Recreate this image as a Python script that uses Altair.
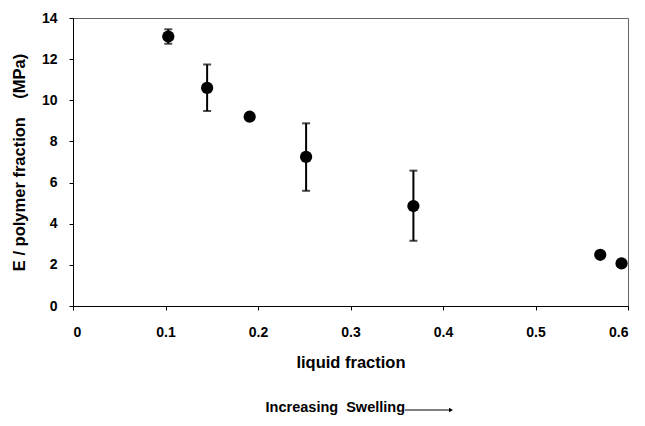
import altair as alt
import pandas as pd

liquid_fraction = [0.103, 0.145, 0.191, 0.252, 0.368, 0.570, 0.593]
modulus = [13.1, 10.6, 9.2, 7.25, 4.86, 2.49, 2.07]
err_low = [12.75, 9.48, 9.2, 5.6, 3.17, 2.49, 2.07]
err_high = [13.45, 11.74, 9.2, 8.88, 6.58, 2.49, 2.07]
has_err = [True, True, False, True, True, False, False]

x_ticks = [0, 0.1, 0.2, 0.3, 0.4, 0.5, 0.6]
y_ticks = [0, 2, 4, 6, 8, 10, 12, 14]

df = pd.DataFrame({"x": liquid_fraction, "y": modulus, "lo": err_low, "hi": err_high, "e": has_err})
dfe = df[df["e"]]

FONT = "Liberation Sans"
NB = "\u00a0"

xs = alt.Scale(domain=[0, 0.6], nice=False, zero=False)
ys = alt.Scale(domain=[0, 14], nice=False)

xax = alt.Axis(values=x_ticks, format=".1f", labelExpr="datum.value == 0 ? '0' : datum.label",
               title="liquid fraction", grid=False, tickSize=4, labelPadding=15,
               titlePadding=15)
yax = alt.Axis(values=y_ticks, title="E / polymer fraction" + NB * 4 + "(MPa)", grid=False,
               tickSize=4, labelPadding=12, titlePadding=14)

base = alt.Chart(df)

points = base.mark_point(filled=True, shape="circle", size=150, color="black", opacity=1).encode(
    x=alt.X("x:Q", scale=xs, axis=xax),
    y=alt.Y("y:Q", scale=ys, axis=yax),
)

bars = alt.Chart(dfe).mark_rule(color="black", strokeWidth=2).encode(
    x=alt.X("x:Q", scale=xs), y=alt.Y("lo:Q", scale=ys), y2="hi:Q"
)
cap_lo = alt.Chart(dfe).mark_tick(color="black", orient="horizontal", size=8, thickness=2).encode(
    x=alt.X("x:Q", scale=xs), y=alt.Y("lo:Q", scale=ys)
)
cap_hi = alt.Chart(dfe).mark_tick(color="black", orient="horizontal", size=8, thickness=2).encode(
    x=alt.X("x:Q", scale=xs), y=alt.Y("hi:Q", scale=ys)
)

ann = pd.DataFrame({"t": ["Increasing" + NB * 2 + "Swelling"]})
label = alt.Chart(ann).mark_text(font=FONT, fontSize=14.5, fontWeight="bold", align="right",
                                 baseline="middle", color="black").encode(
    text="t:N", x=alt.value(332), y=alt.value(390)
)
arrow_line = alt.Chart(ann).mark_rule(color="black", strokeWidth=1).encode(
    x=alt.value(332), x2=alt.value(377), y=alt.value(392)
)
arrow_head = alt.Chart(ann).mark_point(shape="triangle-right", filled=True, size=22,
                                       color="black", opacity=1).encode(
    x=alt.value(378), y=alt.value(392)
)

chart = alt.layer(bars, cap_lo, cap_hi, points, label, arrow_line, arrow_head).properties(
    width=555, height=288,
    autosize=alt.AutoSizeParams(type="none"),
    padding={"left": 65, "top": 10, "right": 9, "bottom": 112},
    background="white",
).configure_view(stroke="#666", strokeWidth=1).configure_axis(
    domainColor="black", tickColor="black", labelColor="black", titleColor="black",
    labelFont=FONT, titleFont=FONT, labelFontSize=14, titleFontSize=16.5,
    labelFontWeight="bold", titleFontWeight="bold",
)

chart.save("out.html", embed_options={"renderer": "svg", "actions": False})
